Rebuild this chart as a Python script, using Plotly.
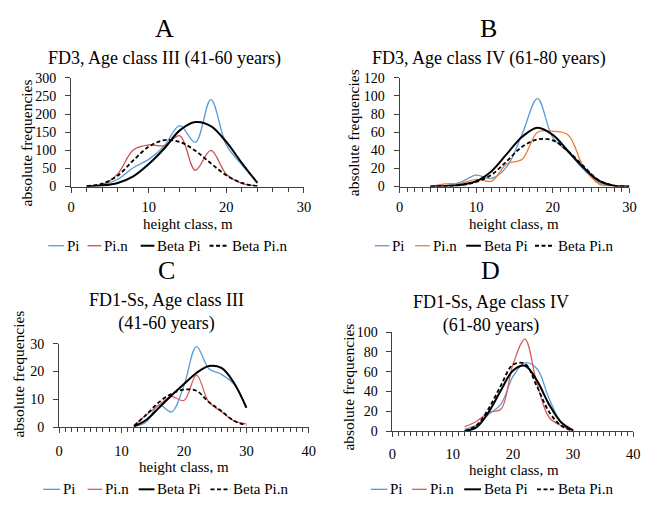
import plotly.graph_objects as go

W, H = 661, 508
FONT = "Liberation Serif"

# ---------------- data ----------------
# Panel A: FD3, Age class III
xA = [2, 4, 6, 8, 10, 12, 14, 16, 18, 20, 22, 24]
piA = [1, 6, 20, 52, 75, 112, 168, 122, 240, 115, 60, 10]
pinA = [0, 5, 35, 101, 115, 113, 140, 45, 100, 34, 9, 2]
betaPiA = [0.5, 3, 10, 28, 62, 105, 155, 178, 167, 123, 65, 10]
betaPinA = [1, 8, 30, 72, 110, 128, 123, 99, 64, 31, 10, 1]

# Panel B: FD3, Age class IV
xB = [4, 6, 8, 10, 12, 14, 16, 18, 20, 22, 24, 26, 28, 30]
piB = [0, 1, 5, 12.5, 9, 22, 58, 97, 54, 38, 19, 4.6, 1, 0]
pinB = [0, 3, 3.5, 8, 6, 25, 30, 60, 61, 57, 22, 3, 0.5, 0.5]
betaPiB = [0, 0.5, 2, 6, 17, 36, 55, 65, 57, 39, 21, 6.5, 1, 0]
betaPinB = [0, 0.3, 1.5, 5, 13, 28, 44, 52, 51, 39, 22.5, 7, 1, 0]

# Panel C: FD1-Ss, Age class III
xC = [12, 14, 16, 18, 20, 22, 24, 26, 28, 30]
piC = [0.3, 2, 8, 5.5, 15, 29, 21, 19, 15.5, 7]
pinC = [0.5, 4.5, 8, 11, 9.6, 18.7, 9, 5.6, 2.3, 1.2]
betaPiC = [0.3, 2.7, 7, 11.4, 15.5, 19.5, 22, 21.3, 16, 7]
betaPinC = [0.5, 4.6, 9, 12, 13.5, 13.1, 9, 5.8, 2.3, 0.7]

# Panel D: FD1-Ss, Age class IV
xD = [12, 14, 16, 18, 20, 22, 24, 26, 28, 30]
piD = [2, 6, 17, 27, 55, 69, 63, 33, 9, 0.7]
pinD = [4.5, 10, 19, 22, 67, 93, 48, 14, 5.5, 0.7]
betaPiD = [0, 4, 19.5, 41, 61, 66, 51, 27, 9, 0.7]
betaPinD = [0, 6, 23, 46, 67, 68, 45, 19.5, 5.5, 0.3]

series_names = ["Pi", "Pi.n", "Beta Pi", "Beta Pi.n"]
letters = ["A", "B", "C", "D"]
subtitles = ["FD3, Age class III (41-60 years)",
             "FD3, Age class IV (61-80 years)",
             "FD1-Ss, Age class III<br>(41-60 years)",
             "FD1-Ss, Age class IV<br>(61-80 years)"]
x_title = "height class, m"
y_title = "absolute frequencies"

BLUE = "#5B9BD5"
RED_A = "#C9504F"
ORANGE = "#ED7D31"
RED_CD = "#D9605C"

panels = [
    dict(x=xA, ys=[piA, pinA, betaPiA, betaPinA], colors=[BLUE, RED_A],
         xr=[0, 30], yr=[0, 300], ydt=50, xdt=10, minor=2,
         dom_x=(68.3, 305), dom_y=(73, 185),
         letter_pos=(163, 22), sub_pos=(163, 53),
         xt_pos=(187, 224), yt_pos=(23, 140),
         leg_y=246, leg=[(45, 61, 62), (85, 99, 100), (139, 153, 154), (209, 228, 230)]),
    dict(x=xB, ys=[piB, pinB, betaPiB, betaPinB], colors=[BLUE, ORANGE],
         xr=[0, 30], yr=[0, 120], ydt=20, xdt=10, minor=1,
         dom_x=(402.3, 636), dom_y=(73, 185),
         letter_pos=(493, 22), sub_pos=(493, 53),
         xt_pos=(519, 224), yt_pos=(355, 130),
         leg_y=246, leg=[(377, 392, 393), (418, 433, 434), (470, 485, 486), (540, 560, 561)]),
    dict(x=xC, ys=[piC, pinC, betaPiC, betaPinC], colors=[BLUE, RED_CD],
         xr=[0, 40], yr=[0, 30], ydt=10, xdt=10, minor=1,
         dom_x=(56, 310), dom_y=(347, 433),
         letter_pos=(165, 272), sub_pos=(165, 314),
         xt_pos=(183, 474), yt_pos=(15, 378),
         leg_y=497, leg=[(40, 57, 58), (85, 100, 101), (137, 153, 154), (210, 230, 231)]),
    dict(x=xD, ys=[piD, pinD, betaPiD, betaPinD], colors=[BLUE, RED_CD],
         xr=[0, 40], yr=[0, 100], ydt=20, xdt=10, minor=1,
         dom_x=(395, 640), dom_y=(335, 437),
         letter_pos=(495, 272), sub_pos=(495, 316),
         xt_pos=(519, 477), yt_pos=(350, 392),
         leg_y=497, leg=[(373, 390, 391), (415, 430, 431), (468, 485, 486), (542, 560, 561)]),
]

AXC = "#404040"

fig = go.Figure()
layout = dict(
    width=W, height=H,
    margin=dict(l=0, r=0, t=0, b=0),
    paper_bgcolor="white", plot_bgcolor="white",
    font=dict(family=FONT, size=14, color="black"),
    showlegend=False,
)
annotations = []
shapes = []


def ann(text, px, py, size, xanchor="center", angle=0):
    annotations.append(dict(text=text, x=px / W, y=1 - py / H, xref="paper", yref="paper",
                            showarrow=False, xanchor=xanchor, yanchor="middle",
                            textangle=angle, font=dict(size=size, family=FONT, color="black")))


for i, p in enumerate(panels):
    n = "" if i == 0 else str(i + 1)
    xa, ya = "x" + n, "y" + n
    styles = [
        dict(color=p["colors"][0], width=1.3),
        dict(color=p["colors"][1], width=1.3),
        dict(color="black", width=2),
        dict(color="black", width=1.8, dash="4px,2.5px"),
    ]
    for name, yv, st in zip(series_names, p["ys"], styles):
        fig.add_trace(go.Scatter(
            x=p["x"], y=yv, mode="lines", name=name,
            line=dict(shape="spline", smoothing=1.0, **st),
            xaxis=xa, yaxis=ya, hoverinfo="x+y+name"))
    dx0, dx1 = p["dom_x"]
    dy0, dy1 = p["dom_y"]
    layout["xaxis" + n] = dict(
        domain=[dx0 / W, dx1 / W], range=p["xr"], anchor=ya,
        showgrid=False, zeroline=False, showline=True, linecolor=AXC, linewidth=1,
        ticks="outside", ticklen=5, tickcolor=AXC, dtick=p["xdt"], tick0=0,
        ticklabelstandoff=2 if i < 2 else 5,
        tickfont=dict(size=14.5, family=FONT, color="black"),
        minor=dict(dtick=p["minor"], ticks="outside", ticklen=4, tickcolor=AXC, showgrid=False),
        fixedrange=True,
    )
    layout["yaxis" + n] = dict(
        domain=[1 - dy1 / H, 1 - dy0 / H], range=p["yr"], anchor=xa,
        showgrid=False, zeroline=False, showline=True, linecolor=AXC, linewidth=1,
        ticks="outside", ticklen=5, tickcolor=AXC, dtick=p["ydt"], tick0=0,
        ticklabelstandoff=6,
        tickfont=dict(size=14, family=FONT, color="black"),
        fixedrange=True,
    )
    ann(letters[i], *p["letter_pos"], 26)
    ann(subtitles[i], *p["sub_pos"], 18)
    ann(x_title, *p["xt_pos"], 15)
    ann(y_title, *p["yt_pos"], 15.5, angle=-90)
    # legend row
    yl = 1 - p["leg_y"] / H
    for (x0, x1, tx), name, st in zip(p["leg"], series_names, styles):
        shapes.append(dict(type="line", xref="paper", yref="paper",
                           x0=x0 / W, x1=x1 / W, y0=yl, y1=yl,
                           line=dict(color=st["color"], width=st["width"], dash=st.get("dash", "solid"))))
        ann(name, tx, p["leg_y"], 15, xanchor="left")

layout["annotations"] = annotations
layout["shapes"] = shapes
fig.update_layout(**layout)
fig.write_html("out.html")
